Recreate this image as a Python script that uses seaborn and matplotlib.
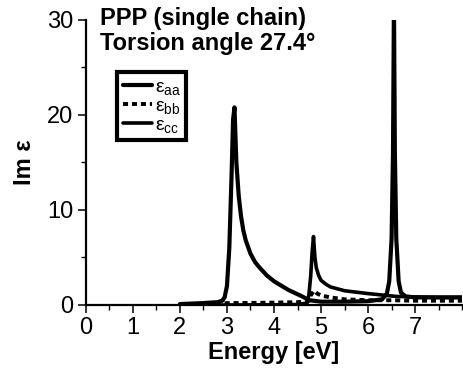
import numpy as np
import pandas as pd
import matplotlib
matplotlib.use("Agg")
import matplotlib.pyplot as plt
from matplotlib.ticker import MultipleLocator
import seaborn as sns

# ---- data ----
energy_aa = [2.0, 2.5, 2.8, 2.9, 2.95, 3.0, 3.05, 3.1, 3.13, 3.16, 3.2, 3.25, 3.3, 3.35,
             3.4, 3.5, 3.6, 3.7, 3.85, 4.0, 4.3, 4.6, 4.75, 5.0, 5.5, 6.0, 6.3, 6.4,
             6.45, 6.5, 6.53, 6.55, 6.57, 6.6, 6.65, 6.7, 6.8, 7.0, 7.5, 8.0]
eps_aa = [0.1, 0.2, 0.3, 0.45, 0.8, 2.0, 6.0, 14.0, 19.5, 20.8, 15.0, 11.5, 9.3, 7.8,
          6.8, 5.4, 4.5, 3.9, 3.1, 2.5, 1.6, 0.9, 0.5, 0.35, 0.35, 0.4, 0.6, 1.2,
          2.5, 7.0, 16.0, 32.0, 16.0, 7.0, 2.5, 1.3, 0.9, 0.8, 0.8, 0.8]

energy_bb = [2.0, 2.5, 3.0, 3.5, 4.0, 4.5, 4.72, 4.78, 4.85, 4.92, 5.0, 5.2, 5.5, 6.0,
             6.5, 7.0, 7.5, 8.0]
eps_bb = [0.05, 0.1, 0.2, 0.22, 0.25, 0.3, 0.35, 1.0, 1.5, 1.2, 1.0, 0.8, 0.6, 0.5,
          0.5, 0.45, 0.45, 0.45]

energy_cc = [2.0, 3.0, 4.0, 4.5, 4.7, 4.74, 4.78, 4.81, 4.84, 4.87, 4.9, 4.95, 5.0,
             5.1, 5.2, 5.5, 6.0, 6.4, 6.6, 7.0, 7.5, 8.0]
eps_cc = [0.0, 0.0, 0.02, 0.05, 0.2, 1.0, 3.0, 5.5, 7.2, 5.0, 3.9, 3.1, 2.6,
          2.2, 1.9, 1.5, 1.2, 1.0, 0.9, 0.85, 0.8, 0.8]

labels = [r"$\varepsilon_{aa}$", r"$\varepsilon_{bb}$", r"$\varepsilon_{cc}$"]
x_ticks = [0, 1, 2, 3, 4, 5, 6, 7]
y_ticks = [0, 10, 20, 30]

sns.set_theme(style="ticks")
plt.rcParams["font.family"] = ["Liberation Sans", "DejaVu Sans"]
plt.rcParams["mathtext.fontset"] = "custom"
plt.rcParams["mathtext.rm"] = "Liberation Sans"
plt.rcParams["mathtext.it"] = "Liberation Sans"
plt.rcParams["text.color"] = "black"
plt.rcParams["axes.labelcolor"] = "black"
plt.rcParams["xtick.color"] = "black"
plt.rcParams["ytick.color"] = "black"

fig = plt.figure(figsize=(4.64, 3.77), dpi=100)
ax = fig.add_axes([0.185, 0.191, 0.811, 0.756])

df_aa = pd.DataFrame({"E": energy_aa, "v": eps_aa})
df_bb = pd.DataFrame({"E": energy_bb, "v": eps_bb})
df_cc = pd.DataFrame({"E": energy_cc, "v": eps_cc})

sns.lineplot(data=df_aa, x="E", y="v", ax=ax, color="black", lw=3.0,
             sort=False, estimator=None, label=labels[0])
sns.lineplot(data=df_bb, x="E", y="v", ax=ax, color="black", lw=2.8,
             sort=False, estimator=None, label=labels[1], linestyle=(0, (1.3, 1.0)))
sns.lineplot(data=df_cc, x="E", y="v", ax=ax, color="black", lw=2.6,
             sort=False, estimator=None, label=labels[2])

ax.set_xlim(0, 8)
ax.set_ylim(0, 30)
ax.set_xticks(x_ticks)
ax.set_yticks(y_ticks)
ax.xaxis.set_minor_locator(MultipleLocator(0.5))
ax.yaxis.set_minor_locator(MultipleLocator(5))
ax.tick_params(axis="both", which="major", direction="out", length=6, width=1.1,
               labelsize=17, color="black", labelcolor="black", pad=3)
ax.tick_params(axis="both", which="minor", direction="out", length=3.5, width=1.0,
               color="black")
for s in ["top", "right"]:
    ax.spines[s].set_visible(False)
for s in ["left", "bottom"]:
    ax.spines[s].set_linewidth(1.6)
    ax.spines[s].set_color("black")

ax.set_xlabel("Energy [eV]", fontsize=17, fontweight="bold", labelpad=1, color="black")
ax.set_ylabel("Im ε", fontsize=17, fontweight="bold", labelpad=8, color="black")

fig.text(0.215, 0.935, "PPP (single chain)", fontsize=17, fontweight="bold",
         ha="left", va="baseline", color="black")
fig.text(0.215, 0.867, "Torsion angle 27.4°", fontsize=17, fontweight="bold",
         ha="left", va="baseline", color="black")

leg = ax.legend(loc="upper left", bbox_to_anchor=(0.082, 0.817), frameon=True,
                fancybox=False, framealpha=1, fontsize=14, handlelength=1.5,
                handletextpad=0.15, labelspacing=0.02, borderpad=0.3,
                borderaxespad=0.0)
leg.get_frame().set_edgecolor("black")
leg.get_frame().set_linewidth(3)
for t in leg.get_texts():
    t.set_color("black")

fig.savefig("out.png", dpi=100)
